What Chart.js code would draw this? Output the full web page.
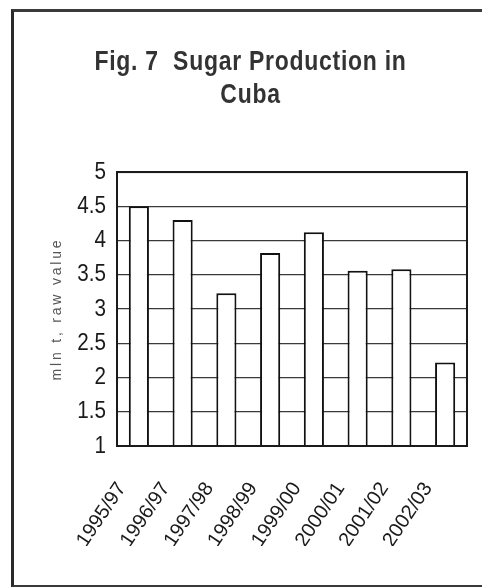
<!DOCTYPE html>
<html>
<head>
<meta charset="utf-8">
<script src="https://cdn.jsdelivr.net/npm/chart.js@4.4.1/dist/chart.umd.min.js"></script>
<style>
  html, body { margin: 0; padding: 0; background: #fff; overflow: hidden; }
  #wrap { position: relative; width: 482px; height: 587px; }
  #frame {
    position: absolute; left: 11px; top: 9px; width: 520px; height: 573px;
    border-left: 3px solid #2a2a2a; border-top: 3px solid #3a3a3a; border-bottom: 3px solid #3a3a3a;
    pointer-events: none;
  }
  canvas { position: absolute; left: 0; top: 0; }
</style>
</head>
<body>
<div id="wrap">
  <canvas id="c" width="482" height="587"></canvas>
  <div id="frame"></div>
</div>
<script>
// Cuban raw sugar output by crop season, million tonnes
const seasons = ['1995/97', '1996/97', '1997/98', '1998/99', '1999/00', '2000/01', '2001/02', '2002/03'];
const production = [4.5, 4.3, 3.23, 3.82, 4.12, 3.56, 3.58, 2.22];
const yTicks = [1, 1.5, 2, 2.5, 3, 3.5, 4, 4.5, 5];
const yTickLabels = ['1', '1.5', '2', '2.5', '3', '3.5', '4', '4.5', '5'];
const titleLines = ['Fig. 7  Sugar Production in', 'Cuba'];
const yAxisTitle = 'mln t, raw value';

const SANS = '"Liberation Sans", Arial, sans-serif';

// Wraps a drawing method so its text is letter-spaced and/or condensed
// horizontally about a given anchor x.
function restyle(obj, fn, opts) {
  if (!obj || obj['__rs_' + fn]) return;
  const orig = obj[fn];
  obj[fn] = function (...args) {
    const ctx = this.ctx;
    ctx.save();
    if (opts.spacing) ctx.letterSpacing = opts.spacing;
    if (opts.squeeze) {
      const ax = opts.anchor(this);
      ctx.translate(ax + (opts.shift || 0), 0);
      ctx.scale(opts.squeeze, 1);
      ctx.translate(-ax, 0);
    }
    const r = orig.apply(this, args);
    ctx.restore();
    return r;
  };
  obj['__rs_' + fn] = true;
}

const condensedText = {
  id: 'condensedText',
  beforeDraw(chart) {
    restyle(chart.titleBlock, 'draw', {
      spacing: '0.9px', squeeze: 0.82, shift: 2,
      anchor: (t) => (t.left + t.right) / 2
    });
    restyle(chart.scales.y, 'drawLabels', {
      squeeze: 0.86,
      anchor: (s) => s.right - s.options.ticks.padding
    });
    restyle(chart.scales.y, 'drawTitle', { spacing: '2.8px' });
  }
};

// Closed frame round the plotting area
const plotFrame = {
  id: 'plotFrame',
  afterDraw(chart) {
    const { ctx, chartArea: a } = chart;
    ctx.save();
    ctx.strokeStyle = '#1a1a1a';
    ctx.lineWidth = 2;
    ctx.strokeRect(a.left, a.top, a.right - a.left, a.bottom - a.top);
    ctx.restore();
  }
};

new Chart(document.getElementById('c'), {
  type: 'bar',
  data: {
    labels: seasons,
    datasets: [{
      data: production,
      backgroundColor: '#ffffff',
      borderColor: '#111111',
      borderWidth: 2,
      borderSkipped: false,
      barPercentage: 0.46,
      categoryPercentage: 1
    }]
  },
  options: {
    responsive: false,
    animation: false,
    events: [],
    layout: { padding: { left: 30, right: 15, top: 0, bottom: 41 } },
    plugins: {
      legend: { display: false },
      tooltip: { enabled: false },
      title: {
        display: true,
        text: titleLines,
        color: '#333333',
        font: { family: SANS, size: 28, weight: 'bold', lineHeight: 1.18 },
        padding: { top: 46, bottom: 60 }
      }
    },
    scales: {
      x: {
        grid: { display: false, drawTicks: false },
        border: { display: true, color: '#111', width: 2 },
        ticks: {
          color: '#1a1a1a',
          font: { family: SANS, size: 20 },
          minRotation: 56,
          maxRotation: 56,
          padding: 32,
          labelOffset: -17,
          autoSkip: false
        },
        afterFit(scale) {
          scale.height = 100;
          scale.paddingLeft = 0;
          scale.paddingRight = 0;
        }
      },
      y: {
        min: 1,
        max: 5,
        afterBuildTicks(scale) { scale.ticks = yTicks.map(v => ({ value: v })); },
        grid: { color: '#3a3a3a', lineWidth: 1.3, drawTicks: false },
        border: { display: true, color: '#111', width: 2 },
        ticks: {
          color: '#1a1a1a',
          font: { family: SANS, size: 24 },
          padding: 11,
          callback: (v) => yTickLabels[yTicks.indexOf(v)]
        },
        title: {
          display: true,
          text: yAxisTitle,
          color: '#555',
          font: { family: SANS, size: 14 },
          padding: { top: 19, bottom: 0 }
        },
        afterFit(scale) { scale.width = 87; }
      }
    }
  },
  plugins: [condensedText, plotFrame]
});
</script>
</body>
</html>
